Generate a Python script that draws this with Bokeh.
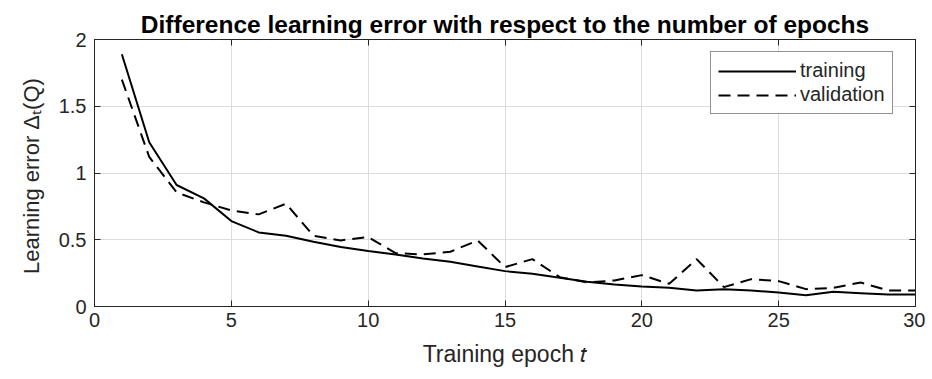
from bokeh.plotting import figure
from bokeh.models import LinearAxis, FixedTicker, NumeralTickFormatter, Legend, LegendItem
from bokeh.embed import file_html
from bokeh.resources import INLINE

epochs = list(range(1, 31))
training = [1.89, 1.23, 0.91, 0.81, 0.64, 0.555, 0.53, 0.485, 0.445, 0.415,
            0.39, 0.36, 0.335, 0.30, 0.265, 0.245, 0.215, 0.185, 0.165, 0.15,
            0.14, 0.12, 0.13, 0.12, 0.105, 0.085, 0.11, 0.10, 0.09, 0.09]
validation = [1.70, 1.12, 0.855, 0.78, 0.72, 0.69, 0.77, 0.53, 0.495, 0.52,
              0.40, 0.39, 0.41, 0.495, 0.295, 0.355, 0.22, 0.18, 0.195, 0.235,
              0.17, 0.355, 0.145, 0.205, 0.19, 0.13, 0.14, 0.18, 0.12, 0.12]
x_ticks = [0, 5, 10, 15, 20, 25, 30]
y_ticks = [0, 0.5, 1, 1.5, 2]

FONT = "Liberation Sans"
DARK = "#262626"

p = figure(width=925, height=373, x_range=(0, 30), y_range=(0, 2),
           output_backend="svg", toolbar_location=None,
           min_border_left=94, min_border_right=10, min_border_top=39, min_border_bottom=67,
           title="Difference learning error with respect to the number of epochs")

p.title.text_font = FONT
p.title.text_font_size = "24.5px"
p.title.text_font_style = "bold"
p.title.text_color = "#000000"
p.title.align = "center"
p.title.standoff = 3

p.outline_line_color = DARK
p.outline_line_width = 1
p.background_fill_color = "white"
p.border_fill_color = "white"

for ax in (p.xaxis[0], p.yaxis[0]):
    ax.major_tick_in = 6
    ax.major_tick_out = 0
    ax.minor_tick_line_color = None
    ax.axis_line_color = DARK
    ax.major_tick_line_color = DARK
    ax.major_label_text_font = FONT
    ax.major_label_text_font_size = "20px"
    ax.major_label_text_color = DARK
    ax.axis_label_text_font = FONT
    ax.axis_label_text_font_style = "normal"
    ax.axis_label_text_color = DARK

p.xaxis[0].axis_label_text_font_size = "23px"
p.yaxis[0].axis_label_text_font_size = "22px"
p.xaxis[0].ticker = FixedTicker(ticks=x_ticks)
p.yaxis[0].ticker = FixedTicker(ticks=y_ticks)
p.yaxis[0].formatter = NumeralTickFormatter(format="0.[0]")
p.xaxis[0].major_label_standoff = 6
p.yaxis[0].major_label_standoff = 8
p.xaxis[0].axis_label = "Training epoch \U0001D461"
p.yaxis[0].axis_label = "Learning error  \u0394\u209c(Q)"
p.xaxis[0].axis_label_standoff = 11
p.yaxis[0].axis_label_standoff = 12

# box ticks on the top and right sides (drawn as unlabeled minor ticks)
for loc, ticks in (("right", y_ticks), ("above", x_ticks)):
    ax = LinearAxis(ticker=FixedTicker(ticks=[], minor_ticks=ticks),
                    major_tick_line_color=None, minor_tick_in=6, minor_tick_out=0,
                    minor_tick_line_color=DARK, axis_line_color=DARK,
                    major_label_standoff=0)
    p.add_layout(ax, loc)

p.xgrid.ticker = FixedTicker(ticks=x_ticks)
p.ygrid.ticker = FixedTicker(ticks=y_ticks)
p.grid.grid_line_color = "#dcdcdc"
p.grid.grid_line_width = 1

r1 = p.line(epochs, training, line_color="black", line_width=2)
r2 = p.line(epochs, validation, line_color="black", line_width=2, line_dash="12 7")

legend = Legend(items=[LegendItem(label="training", renderers=[r1]),
                       LegendItem(label="validation", renderers=[r2])],
                location=(616, 192), margin=0, padding=7, spacing=1,
                glyph_width=78, glyph_height=22, label_height=22, label_standoff=4,
                label_text_font=FONT, label_text_font_size="20px", label_text_color=DARK,
                border_line_color=DARK, border_line_width=1,
                background_fill_color="white", background_fill_alpha=1)
p.add_layout(legend)

open("out.html", "w").write(file_html(p, INLINE))
